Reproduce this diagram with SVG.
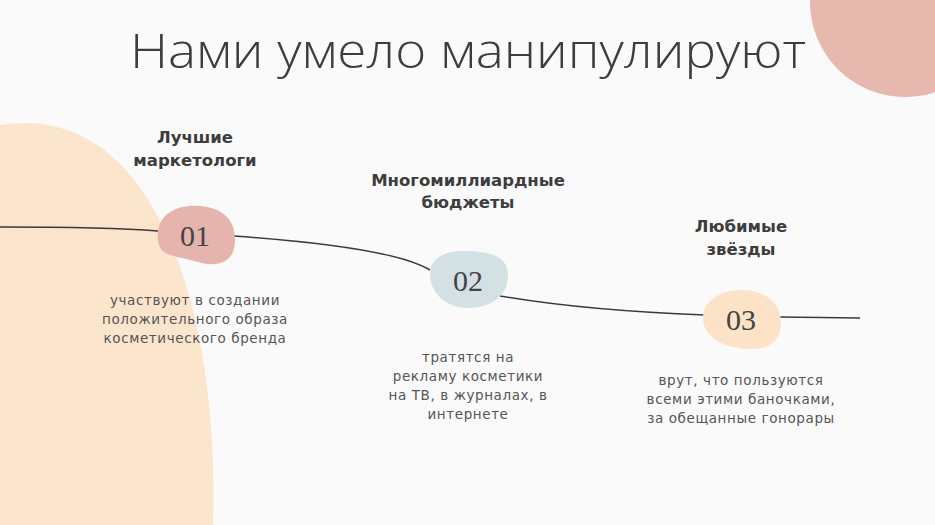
<svg xmlns="http://www.w3.org/2000/svg" width="935" height="525" viewBox="0 0 935 525">
<style>
.h{font-family:"DejaVu Sans","Liberation Sans",sans-serif;font-weight:700;font-size:16.5px;fill:#3d3d3d;text-anchor:middle}
.d{font-family:"DejaVu Sans","Liberation Sans",sans-serif;font-size:13.5px;letter-spacing:0.6px;fill:#555;text-anchor:middle}
.n{font-family:"Liberation Serif",serif;font-size:30px;fill:#444;text-anchor:middle}
.c{fill:none;stroke:#3a3a3a;stroke-width:1.5}
</style>
<rect width="935" height="525" fill="#fafafa"/>
<path d="M0,125 C150,100 220,300 213,525 L0,525 Z" fill="#fce5cd"/>
<circle cx="905" cy="2" r="95" fill="#e6b8ae"/>
<text x="468" y="68" font-family="Open Sans, Liberation Sans, sans-serif" font-weight="300" font-size="47" fill="#3d3d3d" text-anchor="middle" textLength="676" lengthAdjust="spacingAndGlyphs">Нами умело манипулируют</text>
<g id="connectors">
<path class="c" d="M0,227 C60,227 120,228 158,231"/>
<path class="c" d="M234,236 C320,242 400,252 430,270"/>
<path class="c" d="M500,296 C570,308 650,313 705,315"/>
<path class="c" d="M780,317 L860,318"/>
</g>
<g id="node1">
<path d="M158,232 C160,212 180,204 200,206 C225,208 236,222 235,242 C234,262 218,268 198,262 C185,258 178,258 168,254 C158,250 157,240 158,232 Z" fill="#e5b5ad"/>
<text class="n" x="195" y="246">01</text>
<text class="h" x="195" y="143">Лучшие</text>
<text class="h" x="195" y="166">маркетологи</text>
<text class="d" x="195" y="305">участвуют в создании</text>
<text class="d" x="195" y="324">положительного образа</text>
<text class="d" x="195" y="343">косметического бренда</text>
</g>
<g id="node2">
<path d="M430,274 C430,258 445,250 468,251 C495,252 508,258 508,276 C508,296 490,308 468,308 C445,308 430,292 430,274 Z" fill="#d4e1e4"/>
<text class="n" x="468" y="291">02</text>
<text class="h" x="468" y="186">Многомиллиардные</text>
<text class="h" x="468" y="208">бюджеты</text>
<text class="d" x="468" y="362">тратятся на</text>
<text class="d" x="468" y="381">рекламу косметики</text>
<text class="d" x="468" y="400">на ТВ, в журналах, в</text>
<text class="d" x="468" y="419">интернете</text>
</g>
<g id="node3">
<path d="M703,318 C703,300 722,290 742,290 C766,290 782,304 781,324 C780,342 768,350 748,349 C722,348 703,336 703,318 Z" fill="#fce2c6"/>
<text class="n" x="741" y="330">03</text>
<text class="h" x="741" y="232">Любимые</text>
<text class="h" x="741" y="255">звёзды</text>
<text class="d" x="741" y="385">врут, что пользуются</text>
<text class="d" x="741" y="404">всеми этими баночками,</text>
<text class="d" x="741" y="423">за обещанные гонорары</text>
</g>
</svg>
